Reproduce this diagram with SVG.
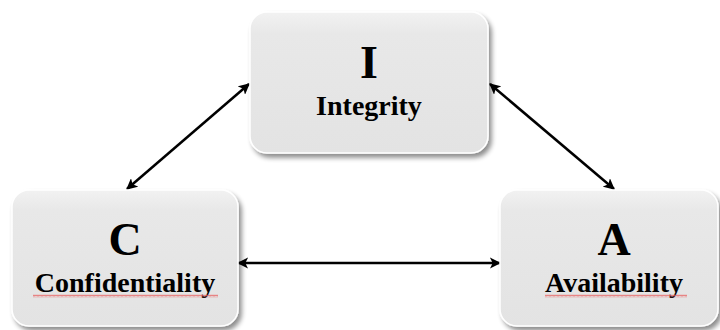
<svg xmlns="http://www.w3.org/2000/svg" width="720" height="330" viewBox="0 0 720 330">
<defs>
<linearGradient id="boxFill" x1="0" y1="0" x2="0" y2="1">
<stop offset="0" stop-color="#f2f2f2"/>
<stop offset="0.15" stop-color="#e8e8e8"/>
<stop offset="1" stop-color="#e3e3e3"/>
</linearGradient>
<filter id="shadow" x="-10%" y="-10%" width="125%" height="130%">
<feGaussianBlur in="SourceAlpha" stdDeviation="2.5"/>
<feOffset dx="3" dy="4" result="b"/>
<feComponentTransfer><feFuncA type="linear" slope="0.45"/></feComponentTransfer>
<feMerge><feMergeNode/><feMergeNode in="SourceGraphic"/></feMerge>
</filter>
<marker id="ah" viewBox="0 0 10 10" refX="9" refY="5" markerWidth="4.5" markerHeight="4.5" orient="auto-start-reverse">
<path d="M0,0 L10,5 L0,10 L2.5,5 Z" fill="#000"/>
</marker>
<pattern id="squig" width="4" height="3" patternUnits="userSpaceOnUse">
<path d="M0,2.5 L1,0.5 L2,2.5 L3,0.5 L4,2.5" fill="none" stroke="#e85a5a" stroke-width="0.7"/>
</pattern>
</defs>
<style>
.box { fill: url(#boxFill); stroke: #ffffff; stroke-width: 1.5; filter: url(#shadow); }
.big { font-family: "Liberation Serif", "Times New Roman", serif; font-weight: bold; font-size: 46px; fill: #000; text-anchor: middle; }
.lbl { font-family: "Liberation Serif", "Times New Roman", serif; font-weight: bold; font-size: 28px; fill: #000; text-anchor: middle; }
.conn { stroke: #000; stroke-width: 2.5; fill: none; marker-start: url(#ah); marker-end: url(#ah); }
</style>
<rect width="720" height="330" fill="#ffffff"/>
<g id="connectors">
<line class="conn" x1="249" y1="84" x2="127" y2="189"/>
<line class="conn" x1="490" y1="84" x2="614" y2="189"/>
<line class="conn" x1="238" y1="263" x2="500" y2="263"/>
</g>
<g id="node-I">
<rect class="box" x="250" y="12" width="238" height="141" rx="17" ry="17"/>
<text class="big" x="369" y="78">I</text>
<text class="lbl" x="369" y="115">Integrity</text>
</g>
<g id="node-C">
<rect class="box" x="12" y="190" width="226" height="136" rx="17" ry="17"/>
<text class="big" x="125" y="255">C</text>
<text class="lbl" x="125" y="292">Confidentiality</text>
<rect x="33" y="294.5" width="185" height="3" fill="url(#squig)"/>
</g>
<g id="node-A">
<rect class="box" x="500" y="190" width="218" height="136" rx="17" ry="17"/>
<text class="big" x="614" y="255">A</text>
<text class="lbl" x="614" y="292">Availability</text>
<rect x="545" y="294.5" width="142" height="3" fill="url(#squig)"/>
</g>
</svg>
